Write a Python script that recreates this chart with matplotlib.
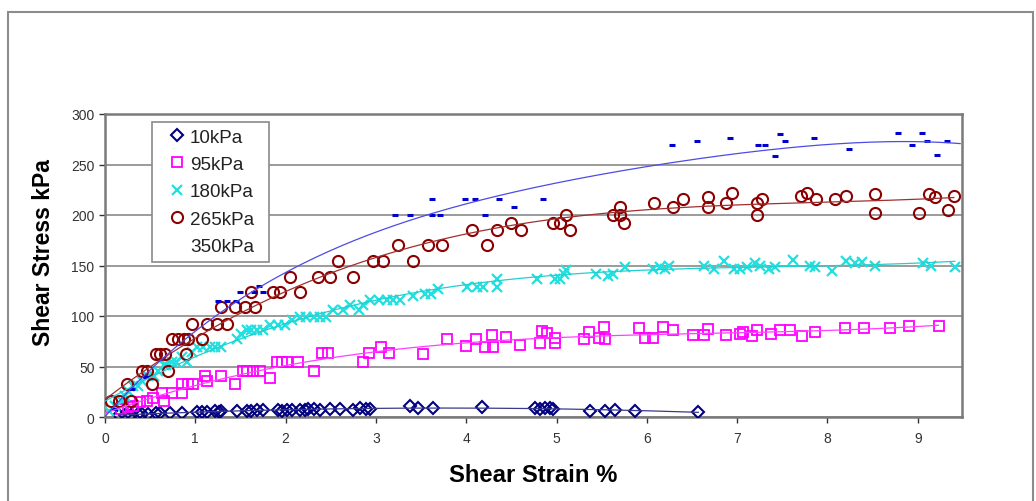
import numpy as np
import matplotlib
matplotlib.use('Agg')
import matplotlib.pyplot as plt
from matplotlib.patches import Rectangle

plt.rcParams['font.family'] = ['Liberation Sans', 'DejaVu Sans']

# 10kPa
x10 = [0.15, 0.22, 0.29, 0.37, 0.41, 0.48, 0.57, 0.61, 0.72, 0.85, 1.02, 1.07, 1.13, 1.22,
       1.26, 1.29, 1.46, 1.57, 1.62, 1.68, 1.75, 1.92, 1.96, 2.01, 2.07, 2.16, 2.21, 2.25,
       2.31, 2.38, 2.49, 2.60, 2.75, 2.82, 2.89, 2.93, 3.38, 3.47, 3.63, 4.17, 4.76, 4.82,
       4.87, 4.93, 4.96, 5.37, 5.54, 5.65, 5.87, 6.57]
y10 = [2, 2, 2, 3, 3, 3, 4, 4, 4, 4, 5, 5, 5, 6, 5, 6, 6, 6, 6, 7, 7, 7, 6, 7, 7, 7, 7, 8,
       8, 7, 8, 8, 7, 9, 8, 8, 11, 9, 9, 10, 9, 8, 9, 9, 8, 6, 6, 7, 6, 5]

# 95kPa
x95 = [0.18, 0.26, 0.31, 0.39, 0.46, 0.53, 0.63, 0.65, 0.74, 0.85, 0.85, 0.92, 0.98, 1.11,
       1.13, 1.28, 1.44, 1.53, 1.57, 1.64, 1.72, 1.83, 1.90, 1.96, 2.01, 2.14, 2.31, 2.40,
       2.47, 2.86, 2.92, 3.06, 3.14, 3.52, 3.79, 4.00, 4.11, 4.21, 4.28, 4.30, 4.44, 4.60,
       4.82, 4.84, 4.89, 4.98, 4.98, 5.30, 5.36, 5.47, 5.53, 5.54, 5.91, 5.98, 6.07, 6.18,
       6.29, 6.51, 6.63, 6.68, 6.88, 7.03, 7.07, 7.16, 7.22, 7.38, 7.48, 7.59, 7.72, 7.86,
       8.19, 8.41, 8.69, 8.90, 9.23]
y95 = [8, 10, 11, 15, 16, 19, 24, 16, 24, 33, 24, 33, 33, 41, 36, 41, 33, 46, 46, 46, 46,
       39, 54, 54, 54, 54, 46, 63, 63, 54, 63, 69, 63, 62, 77, 70, 77, 69, 81, 69, 79, 71,
       73, 85, 83, 78, 73, 77, 84, 78, 89, 77, 88, 78, 78, 89, 86, 81, 81, 87, 81, 82, 84,
       80, 86, 82, 86, 86, 80, 84, 88, 88, 88, 90, 90]

# 180kPa
x180 = [0.04, 0.11, 0.19, 0.22, 0.26, 0.31, 0.37, 0.41, 0.48, 0.54, 0.59, 0.65, 0.68, 0.74,
        0.79, 0.85, 0.91, 0.96, 1.02, 1.09, 1.16, 1.22, 1.29, 1.46, 1.51, 1.57, 1.62, 1.68,
        1.75, 1.83, 1.92, 1.99, 2.07, 2.16, 2.23, 2.31, 2.38, 2.45, 2.53, 2.64, 2.71, 2.81,
        2.86, 2.93, 3.03, 3.12, 3.19, 3.27, 3.41, 3.54, 3.61, 3.69, 4.01, 4.12, 4.19, 4.34,
        4.34, 4.78, 4.98, 5.04, 5.08, 5.11, 5.44, 5.57, 5.63, 5.76, 6.07, 6.15, 6.20, 6.24,
        6.63, 6.74, 6.85, 6.96, 7.03, 7.11, 7.20, 7.25, 7.35, 7.42, 7.62, 7.81, 7.86, 8.05,
        8.20, 8.31, 8.38, 8.53, 9.06, 9.15, 9.41]
y180 = [6, 11, 16, 21, 26, 31, 31, 36, 41, 41, 46, 51, 51, 54, 54, 59, 54, 64, 69, 69, 69,
        69, 69, 77, 82, 86, 86, 86, 86, 91, 91, 91, 96, 99, 99, 99, 99, 99, 106, 106, 111,
        106, 111, 116, 116, 116, 116, 116, 120, 122, 122, 127, 129, 129, 129, 137, 129, 137,
        137, 137, 142, 146, 142, 140, 142, 149, 147, 149, 147, 150, 150, 147, 154, 147, 147,
        149, 152, 150, 147, 149, 155, 150, 149, 145, 154, 152, 153, 150, 152, 150, 149]

# 265kPa
x265 = [0.07, 0.15, 0.24, 0.29, 0.41, 0.46, 0.52, 0.57, 0.61, 0.66, 0.70, 0.74, 0.81, 0.87,
        0.92, 0.90, 0.96, 1.07, 1.13, 1.24, 1.35, 1.29, 1.44, 1.55, 1.66, 1.62, 1.86, 1.94,
        2.05, 2.16, 2.36, 2.49, 2.58, 2.75, 2.97, 3.08, 3.25, 3.41, 3.58, 3.73, 4.06, 4.23,
        4.34, 4.50, 4.61, 4.96, 5.04, 5.10, 5.15, 5.63, 5.70, 5.70, 5.75, 6.08, 6.29, 6.40,
        6.68, 6.68, 6.88, 6.94, 7.22, 7.22, 7.27, 7.71, 7.77, 7.87, 8.08, 8.20, 8.53, 8.53,
        9.01, 9.12, 9.19, 9.34, 9.40]
y265 = [16, 16, 33, 16, 46, 46, 33, 62, 62, 62, 46, 77, 77, 77, 77, 62, 92, 77, 92, 92, 92,
        109, 109, 109, 109, 124, 124, 124, 139, 124, 139, 139, 154, 139, 154, 154, 170, 154,
        170, 170, 185, 170, 185, 192, 185, 192, 192, 200, 185, 200, 208, 200, 192, 212, 208,
        216, 218, 208, 212, 222, 212, 200, 216, 219, 222, 216, 216, 219, 221, 202, 202, 221,
        218, 205, 219]

# 350kPa
x350 = [0.10, 0.30, 0.45, 1.25, 1.35, 1.45, 1.50, 1.65, 1.75, 1.70, 3.21,
        3.38, 3.62, 3.62, 3.71, 3.99, 4.10, 4.21, 4.36, 4.53, 4.85, 6.28, 6.55, 6.92, 7.23,
        7.31, 7.42, 7.47, 7.53, 7.85, 8.24, 8.78, 8.94, 9.05, 9.10, 9.21, 9.32]
y350 = [8, 28, 40, 115, 115, 115, 124, 124, 124, 130, 200, 200, 216, 200, 200,
        216, 216, 200, 216, 208, 216, 269, 273, 276, 269, 269, 258, 280, 273, 276, 265, 281,
        269, 281, 273, 259, 273]

# 350kPa trendline
trend350_x = [0, 0.6, 1.3, 2.16, 3.49, 5.11, 6.6, 7.8, 8.8, 9.47]
trend350_y = [0, 55, 107, 147, 200, 233, 256, 269, 272, 271]

labels = ['10kPa', '95kPa', '180kPa', '265kPa', '350kPa']

fig = plt.figure(figsize=(10.36, 5.02), dpi=100)
fig.patches.append(Rectangle((8 / 1036, -0.02), 1025 / 1036, (502 - 13) / 502 + 0.02,
                             transform=fig.transFigure, fill=False, edgecolor='#8c8c8c',
                             lw=1.5, zorder=0))
ax = fig.add_axes([105 / 1036, 1 - 418 / 502, 857 / 1036, 303 / 502])

series = [
    (x10, y10, dict(marker='D', ms=6.5, mfc='none', mec='#000080', mew=1.5), '#3a3a8a', 2),
    (x95, y95, dict(marker='s', ms=7, mfc='none', mec='#ff00ff', mew=1.3), '#ff40ff', 3),
    (x180, y180, dict(marker='x', ms=7, mec='#22e0e0', mew=1.6), '#22d0d0', 3),
    (x265, y265, dict(marker='o', ms=8, mfc='none', mec='#8b0000', mew=1.5), '#a03030', 3),
    (x350, y350, dict(marker='_', ms=5, mec='#0000cc', mew=2.2), '#4c4ce6', None),
]

handles = []
for (xs, ys, mk, lc, order), lab in zip(series, labels):
    h, = ax.plot(xs, ys, ls='none', label=lab, zorder=3, **mk)
    handles.append(h)
    if order is None:
        coef = np.polyfit(trend350_x, trend350_y, 4)
        xx = np.linspace(0, max(trend350_x), 200)
    else:
        coef = np.polyfit(xs, ys, order)
        xx = np.linspace(0 if order == 3 else min(xs), max(xs), 200)
    ax.plot(xx, np.polyval(coef, xx), color=lc, lw=0.9, zorder=4)

ax.set_xlim(0, 9.49)
ax.set_ylim(0, 300)
ax.set_xticks(range(10))
ax.set_yticks(range(0, 301, 50))
ax.yaxis.grid(True, color='#8a8a8a', lw=1.2)
ax.set_axisbelow(True)
for s in ax.spines.values():
    s.set_color('#7a7a7a')
    s.set_linewidth(1.8)
ax.tick_params(colors='#333333', labelsize=10, length=4, width=1, direction='out')
ax.tick_params(axis='x', pad=6)

ax.set_xlabel('Shear Strain %', fontsize=17.2, fontweight='bold', labelpad=13)
ax.set_ylabel('Shear Stress kPa', fontsize=16.5, fontweight='bold')
ax.yaxis.set_label_coords(-0.058, 0.546)

leg = ax.legend(handles=handles, loc='upper left',
                bbox_to_anchor=(0.0545, 0.5, 0.137, 0.4746), mode='expand',
                borderaxespad=0, fontsize=13.6, frameon=True, fancybox=False,
                edgecolor='#8a8a8a', handlelength=2.0, handletextpad=-0.33,
                labelspacing=0.54, borderpad=0.35, framealpha=1)
leg.get_frame().set_linewidth(1.2)
leg.legend_handles[4].set_visible(False)
for t in leg.get_texts():
    t.set_color('#222222')

fig.savefig('out.png', dpi=100, facecolor='white')
